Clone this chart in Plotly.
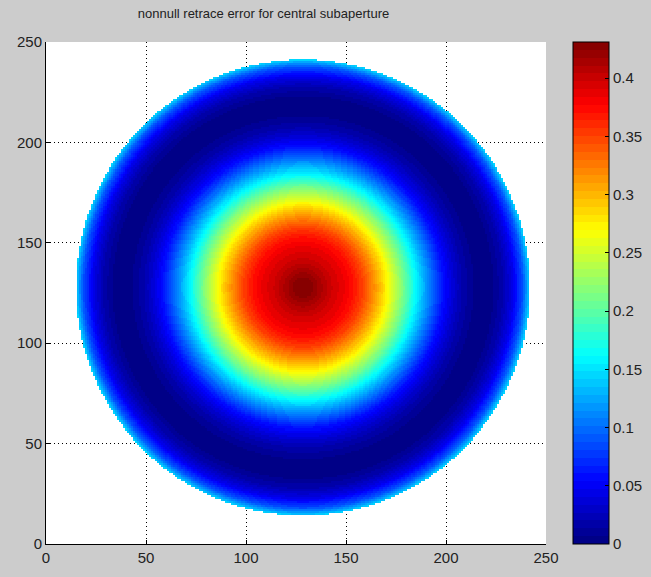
import numpy as np
import plotly.graph_objects as go

# Radial profile of the retrace error (radius in pixels of data grid)
radius = [0, 5, 10, 15, 20, 25, 30, 35, 40, 45, 50, 55, 60, 65, 70, 75, 80, 85, 90, 95, 100, 105, 110, 113.5]
error = [0.431, 0.425, 0.41, 0.396, 0.386, 0.372, 0.35, 0.32, 0.287, 0.25, 0.213, 0.172, 0.132, 0.095, 0.06, 0.036, 0.018, 0.007, 0.002, 0.006, 0.02, 0.045, 0.09, 0.145]
center_x, center_y = 128.5, 127.7
aperture_radius = 113.5

x_ticks = [0, 50, 100, 150, 200, 250]
y_ticks = [0, 50, 100, 150, 200, 250]
cbar_ticks = [0, 0.05, 0.1, 0.15, 0.2, 0.25, 0.3, 0.35, 0.4]
title_text = "nonnull retrace error for central subaperture"

# grid
xs = np.arange(0, 257)
ys = np.arange(0, 257)
X, Y = np.meshgrid(xs, ys)
R = np.hypot(X - center_x, Y - center_y)
Z = np.interp(R, radius, error)
Z[R > aperture_radius] = np.nan

# 64-level jet colormap (MATLAB style)
def jet(t):
    r = np.clip(1.5 - abs(4 * t - 3), 0, 1)
    g = np.clip(1.5 - abs(4 * t - 2), 0, 1)
    b = np.clip(1.5 - abs(4 * t - 1), 0, 1)
    return r, g, b

n = 64
cs = []
for i in range(n):
    t = (i + 0.5) / n
    r, g, b = jet(t)
    col = f"rgb({int(round(r*255))},{int(round(g*255))},{int(round(b*255))})"
    cs.append([i / n, col])
    cs.append([(i + 1) / n, col])

font = dict(family="Liberation Sans, Arial", size=15, color="#222")

fig = go.Figure(go.Heatmap(
    x=xs, y=ys, z=Z, zmin=0, zmax=0.431, colorscale=cs, zsmooth=False,
    hoverongaps=False,
    colorbar=dict(
        x=1.054, xanchor="left", xref="paper", y=0.5, yanchor="middle", len=1.0,
        thickness=36, outlinewidth=1, outlinecolor="black",
        tickvals=cbar_ticks, ticktext=[f"{v:g}" for v in cbar_ticks],
        ticks="inside", ticklen=4, tickcolor="black",
        tickfont=font, ypad=0, xpad=0,
    ),
))

axis_common = dict(
    range=[0, 250], showgrid=True, gridcolor="black", griddash="1px,3px", gridwidth=1,
    ticks="inside", ticklen=4, tickcolor="black", showline=True, linecolor="black",
    linewidth=1, zeroline=False, mirror=False, tickfont=font,
)

fig.update_layout(
    width=651, height=577,
    paper_bgcolor="#cccccc", plot_bgcolor="white",
    margin=dict(l=45.5, r=105, t=42, b=33, autoexpand=False),
    title=dict(text=title_text, x=0.435, xanchor="center", xref="paper",
               y=1 - 13 / 577, yanchor="middle",
               font=dict(family="Liberation Sans, Arial", size=13, color="#222")),
    xaxis=dict(tickvals=x_ticks, **axis_common),
    yaxis=dict(tickvals=y_ticks, **axis_common),
)

fig.write_html("out.html", config={"displayModeBar": False},
               post_script="document.body.style.margin='0';document.body.style.padding='0';document.body.style.background='#cccccc';")
